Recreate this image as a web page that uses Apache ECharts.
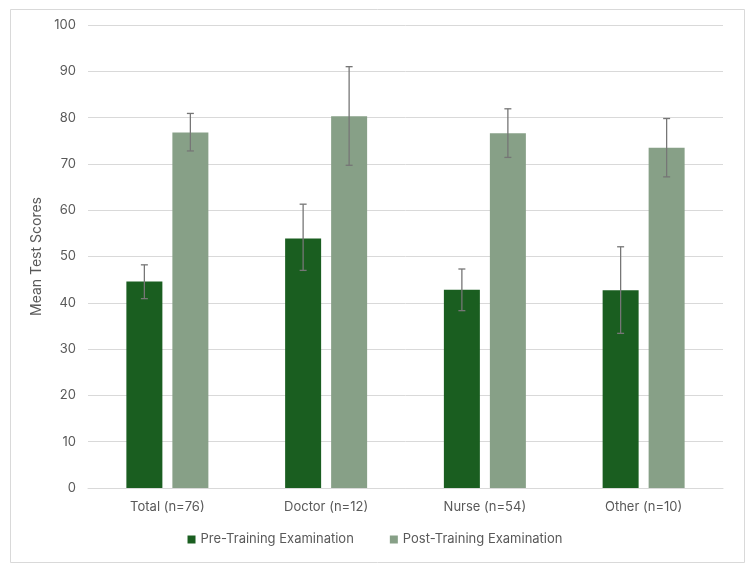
<!DOCTYPE html>
<html>
<head>
<meta charset="utf-8">
<script src="https://cdn.jsdelivr.net/npm/echarts@6/dist/echarts.min.js"></script>
<style>
  html, body { margin: 0; padding: 0; background: #fff; }
  #main { width: 750px; height: 567px; }
</style>
</head>
<body>
<div id="main"></div>
<script>
const myChart = echarts.init(document.getElementById('main'));

// data
const categories = ['Total (n=76)', 'Doctor (n=12)', 'Nurse (n=54)', 'Other (n=10)'];
const preMeans = [44.6, 53.9, 42.8, 42.7];
const preLow = [40.9, 47.0, 38.3, 33.4];
const preHigh = [48.2, 61.3, 47.3, 52.1];
const postMeans = [76.8, 80.3, 76.6, 73.5];
const postLow = [72.8, 69.7, 71.4, 67.2];
const postHigh = [80.9, 91.0, 81.9, 79.8];

const barW = 36;
const gapPx = 10;
const textColor = '#595959';
const fontFam = 'Inter, "Open Sans", sans-serif';

function errorSeries(low, high, side) {
    return {
        type: 'custom',
        z: 10,
        silent: true,
        data: categories.map((c, i) => [i, low[i], high[i]]),
        encode: { x: 0, y: [1, 2] },
        renderItem: function (params, api) {
            const i = api.value(0);
            const lo = api.coord([i, api.value(1)]);
            const hi = api.coord([i, api.value(2)]);
            const x = lo[0] + side * (barW + gapPx) / 2;
            const cap = 3.5;
            const style = { stroke: '#767676', lineWidth: 1.3 };
            return {
                type: 'group',
                children: [
                    { type: 'line', shape: { x1: x, y1: hi[1], x2: x, y2: lo[1] }, style: style },
                    { type: 'line', shape: { x1: x - cap, y1: hi[1], x2: x + cap, y2: hi[1] }, style: style },
                    { type: 'line', shape: { x1: x - cap, y1: lo[1], x2: x + cap, y2: lo[1] }, style: style }
                ]
            };
        }
    };
}

option = {
    animation: false,
    backgroundColor: '#fff',
    textStyle: { fontFamily: fontFam },
    graphic: [{
        type: 'rect',
        left: 8, top: 7,
        shape: { width: 734, height: 553 },
        style: { fill: 'none', stroke: '#d9d9d9', lineWidth: 1 },
        silent: true
    }],
    grid: { left: 88, right: 27, top: 25, bottom: 79 },
    legend: {
        data: ['Pre-Training Examination', 'Post-Training Examination'],
        bottom: 16,
        left: 'center',
        itemWidth: 8,
        itemHeight: 8,
        itemGap: 36,
        icon: 'rect',
        textStyle: { color: textColor, fontSize: 13, fontFamily: fontFam }
    },
    xAxis: {
        type: 'category',
        data: categories,
        axisLine: { lineStyle: { color: '#d9d9d9' } },
        axisTick: { show: false },
        axisLabel: { color: textColor, fontSize: 13, margin: 13, fontFamily: fontFam }
    },
    yAxis: {
        type: 'value',
        min: 0,
        max: 100,
        interval: 10,
        name: 'Mean Test Scores',
        nameLocation: 'middle',
        nameGap: 41,
        nameTextStyle: { color: textColor, fontSize: 14, fontFamily: fontFam },
        axisLine: { show: false },
        axisTick: { show: false },
        axisLabel: { color: textColor, fontSize: 13, margin: 12, fontFamily: fontFam },
        splitLine: { lineStyle: { color: '#d9d9d9' } }
    },
    series: [
        {
            name: 'Pre-Training Examination',
            type: 'bar',
            data: preMeans,
            barWidth: barW,
            barGap: (gapPx / barW * 100) + '%',
            itemStyle: { color: '#1a5e20' }
        },
        {
            name: 'Post-Training Examination',
            type: 'bar',
            data: postMeans,
            barWidth: barW,
            itemStyle: { color: '#87a087' }
        },
        errorSeries(preLow, preHigh, -1),
        errorSeries(postLow, postHigh, 1)
    ]
};

myChart.setOption(option);
</script>
</body>
</html>
